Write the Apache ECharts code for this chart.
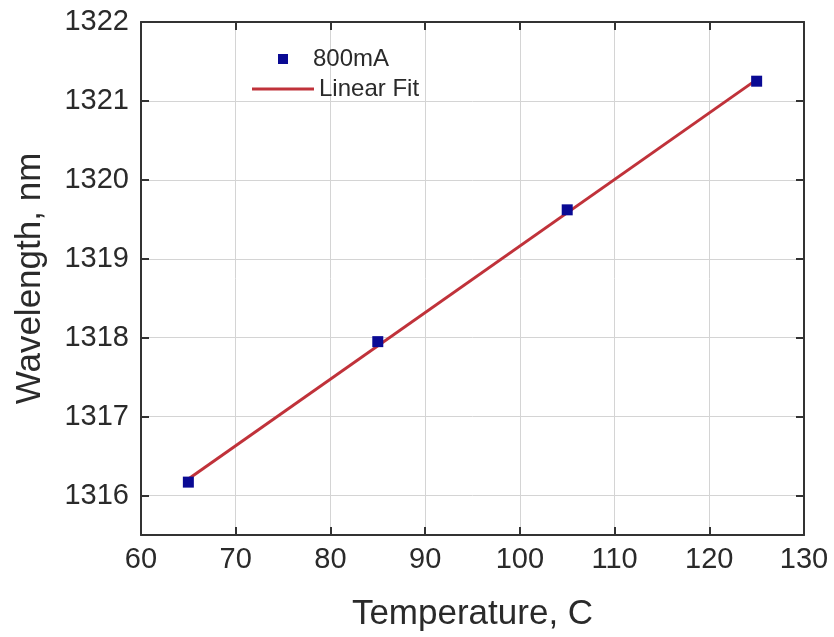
<!DOCTYPE html>
<html>
<head>
<meta charset="utf-8">
<script src="https://cdn.jsdelivr.net/npm/echarts@6/dist/echarts.min.js"></script>
<style>
  html, body { margin: 0; padding: 0; background: #fff; }
  #chart { width: 834px; height: 637px; }
</style>
</head>
<body>
<div id="chart"></div>
<script>
const temperature = [65, 85, 105, 125]
const wavelength = [1316.17, 1317.95, 1319.62, 1321.25]
const fitTemperature = [65, 125]
const fitWavelength = [1316.21, 1321.27]

const font = 'Liberation Sans, Arial, sans-serif'
const axisColor = '#333'
const textColor = '#2a2a2a'

const myChart = echarts.init(document.getElementById('chart'))

const xBase = {
  type: 'value',
  min: 60,
  max: 130,
  interval: 10,
  axisLine: { show: true, onZero: false, lineStyle: { color: axisColor, width: 2 } },
  axisTick: { show: true, inside: true, length: 8, lineStyle: { color: axisColor, width: 2 } },
}
const yBase = {
  type: 'value',
  min: 1315.5,
  max: 1322,
  splitNumber: 6,
  axisLine: { show: true, onZero: false, lineStyle: { color: axisColor, width: 2 } },
  axisTick: { show: true, inside: true, length: 8, lineStyle: { color: axisColor, width: 2 } },
}

const option = {
  backgroundColor: '#fff',
  animation: false,
  grid: { left: 141, right: 30, top: 22, bottom: 102 },
  legend: [
    {
      data: ['800mA'],
      left: 273,
      top: 42,
      icon: 'rect',
      itemWidth: 10,
      itemHeight: 10,
      textStyle: { fontFamily: font, fontSize: 24, color: textColor, padding: [0, 0, 0, 20] },
    },
    {
      data: ['Linear Fit'],
      left: 247,
      top: 72,
      icon: 'rect',
      itemWidth: 62,
      itemHeight: 3,
      textStyle: { fontFamily: font, fontSize: 24, color: textColor },
    },
  ],
  xAxis: [
    {
      ...xBase,
      position: 'bottom',
      name: 'Temperature, C',
      nameLocation: 'middle',
      nameGap: 62,
      nameTextStyle: { fontFamily: font, fontSize: 35, color: textColor },
      axisLabel: { fontFamily: font, fontSize: 29, color: textColor, margin: 10 },
      splitLine: { show: true, lineStyle: { color: '#d4d4d4', width: 1 } },
    },
    {
      ...xBase,
      position: 'top',
      axisLabel: { show: false },
      splitLine: { show: false },
    },
  ],
  yAxis: [
    {
      ...yBase,
      position: 'left',
      name: 'Wavelength, nm',
      nameLocation: 'middle',
      nameGap: 93,
      nameTextStyle: { fontFamily: font, fontSize: 35, color: textColor },
      axisLabel: {
        fontFamily: font, fontSize: 29, color: textColor, margin: 12, showMinLabel: false,
        formatter: (v) => String(v),
      },
      splitLine: { show: true, lineStyle: { color: '#d4d4d4', width: 1 } },
    },
    {
      ...yBase,
      position: 'right',
      axisLabel: { show: false },
      splitLine: { show: false },
    },
  ],
  series: [
    {
      name: 'Linear Fit',
      type: 'line',
      data: fitTemperature.map((t, i) => [t, fitWavelength[i]]),
      showSymbol: false,
      symbol: 'none',
      lineStyle: { color: '#c0323a', width: 3 },
      itemStyle: { color: '#c0323a' },
      z: 2,
    },
    {
      name: '800mA',
      type: 'scatter',
      data: temperature.map((t, i) => [t, wavelength[i]]),
      symbol: 'rect',
      symbolSize: 11,
      itemStyle: { color: '#0a0a94', opacity: 1 },
      z: 3,
    },
  ],
}
myChart.setOption(option, true)
</script>
</body>
</html>
